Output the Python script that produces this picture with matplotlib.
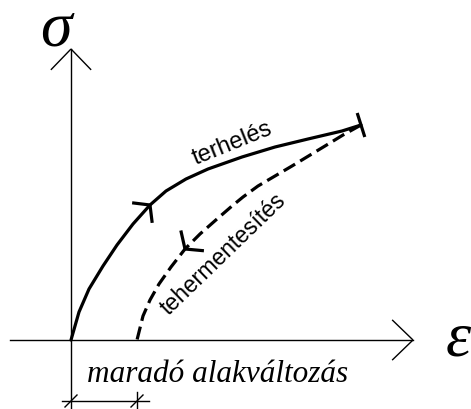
import numpy as np
import matplotlib
matplotlib.use("Agg")
import matplotlib.pyplot as plt

# stress-strain curve, loading and unloading branch (drawing units, origin at the axes cross)
eps_load = [0, 8, 18, 32, 46, 62, 79, 95, 115, 137, 171, 204, 237, 271, 290]
sig_load = [0, 28, 51, 74, 95, 116, 135, 149, 161, 171, 183, 193, 201, 209, 215]
eps_unload = [290, 272, 254, 221, 187, 172, 161, 146, 129, 114, 100, 88, 79, 72, 66]
sig_unload = [215, 205, 194, 174, 154, 143, 134, 121, 106, 91, 73, 56, 40, 24, 0]

axis_x_end = 342
axis_y_end = 291
label_sigma = "σ"
label_eps = "ε"
label_load = "terhelés"
label_unload = "tehermentesítés"
label_residual = "maradó alakváltozás"

plt.rcParams["lines.scale_dashes"] = False
serif = ["Liberation Serif", "DejaVu Serif"]
sans = ["Liberation Sans", "DejaVu Sans"]
LW = 2.3
AX_LW = 1.0


def open_head(ax, x, y, dx, dy, length, half_angle, lw):
    # open "V" head at (x, y) pointing along (dx, dy)
    d = np.array([dx, dy], float)
    d /= np.hypot(*d)
    back = -d
    for s in (1, -1):
        a = np.deg2rad(s * half_angle)
        r = np.array([back[0] * np.cos(a) - back[1] * np.sin(a),
                      back[0] * np.sin(a) + back[1] * np.cos(a)])
        ax.plot([x, x + length * r[0]], [y, y + length * r[1]],
                color="black", lw=lw, solid_capstyle="butt")


fig = plt.figure(figsize=(4.71, 4.10), dpi=100)
ax = fig.add_axes([0, 0, 1, 1])
ax.set_xlim(-71, 400)
ax.set_ylim(-69, 341)
ax.set_aspect("equal")
ax.axis("off")

# axes with open arrow heads
ax.plot([-61, axis_x_end], [0, 0], color="black", lw=AX_LW)
ax.plot([0, 0], [-69, axis_y_end], color="black", lw=AX_LW)
open_head(ax, axis_x_end, 0, 1, 0, 29, 44, AX_LW)
open_head(ax, 0, axis_y_end, 0, 1, 29, 44, AX_LW)
ax.text(-15, 311, label_sigma, family=serif, style="italic", fontsize=46,
        ha="center", va="center")
ax.text(387, 0, label_eps, family=serif, style="italic", fontsize=46,
        ha="center", va="center")

# loading branch
ax.plot(eps_load, sig_load, color="black", lw=LW, solid_capstyle="round",
        solid_joinstyle="round")
i = 6
open_head(ax, eps_load[i], sig_load[i],
          eps_load[i + 1] - eps_load[i - 1], sig_load[i + 1] - sig_load[i - 1],
          18, 52, LW)
# end mark, perpendicular to the curve
tx = eps_load[-1] - eps_load[-2]
ty = sig_load[-1] - sig_load[-2]
n = np.array([-ty, tx]) / np.hypot(tx, ty)
ax.plot([eps_load[-1] - 11 * n[0], eps_load[-1] + 11 * n[0]],
        [sig_load[-1] - 11 * n[1], sig_load[-1] + 11 * n[1]],
        color="black", lw=LW)

# unloading branch
ax.plot(eps_unload, sig_unload, color="black", lw=LW, dashes=(9.5, 4.3))
j = 9
open_head(ax, eps_unload[j], sig_unload[j],
          eps_unload[j + 1] - eps_unload[j - 1], sig_unload[j + 1] - sig_unload[j - 1],
          19, 54, LW)

ax.text(161, 197, label_load, family=sans, fontsize=17, rotation=22,
        rotation_mode="anchor", ha="center", va="center")
ax.text(152, 87, label_unload, family=sans, fontsize=16.5, rotation=44,
        rotation_mode="anchor", ha="center", va="center")

# residual strain dimension
res = eps_unload[-1]
ax.plot([-9, res + 12], [-61, -61], color="black", lw=AX_LW)
ax.plot([res, res], [-52, -69], color="black", lw=AX_LW)
for xv in (0, res):
    ax.plot([xv - 6, xv + 6], [-67, -55], color="black", lw=AX_LW)
ax.text(16, -41, label_residual, family=serif, style="italic", fontsize=22.5,
        ha="left", va="baseline")

fig.savefig("out.png", dpi=100)
